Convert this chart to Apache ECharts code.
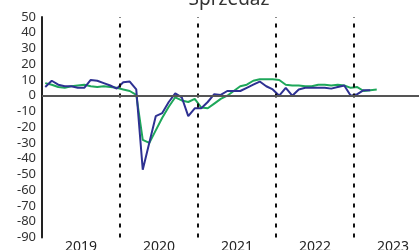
<!DOCTYPE html>
<html>
<head>
<meta charset="utf-8">
<script src="https://cdn.jsdelivr.net/npm/echarts@6/dist/echarts.min.js"></script>
<style>
html,body{margin:0;padding:0;background:#fff;}
#chart{width:419px;height:250px;}
</style>
</head>
<body>
<div id="chart"></div>
<script>
// Monthly data Jan 2019 .. Apr 2023
var years = ['2019', '2020', '2021', '2022', '2023'];
var yearBoundaries = [12, 24, 36, 48];
var blueValues = [
  5.5, 9.5, 7, 6, 6, 5, 5, 10, 9.5, 8, 6.5, 4.5,
  8.5, 9, 4, -47, -30, -13, -11, -4, 1.5, -1, -13, -8,
  -8, -4, 1, 0.5, 3, 3, 3, 5, 7, 9, 6, 4,
  0, 5, 0, 4, 5, 5, 5, 5, 4.5, 5.5, 6.5, 0,
  1, 3.5, 3.5
];
var greenValues = [
  8, 7, 5.5, 5, 6, 6.5, 7, 6, 5.5, 6, 5.5, 5,
  4, 3, 0.5, -28, -30, -22, -14, -7, -1, -3, -4, -2,
  -7.5, -8, -5, -2, 0, 3, 6, 7, 9.5, 10.5, 10.5, 10.5,
  10, 7, 6.5, 6.5, 6, 6, 7, 7, 6.5, 7, 6.5, 5,
  5.5, 3, 3.5, 4
];
var yTicks = [50, 40, 30, 20, 10, 0, -10, -20, -30, -40, -50, -60, -70, -80, -90];
var titleText = 'Sprzedaż';

function toPoints(arr) {
  return arr.map(function (v, i) { return [i + 0.5, v]; });
}

var chart = echarts.init(document.getElementById('chart'));
chart.setOption({
  animation: false,
  backgroundColor: '#ffffff',
  title: {
    text: titleText,
    left: 224,
    textAlign: 'center',
    top: -15,
    textStyle: { fontFamily: 'Noto Sans', fontSize: 19, fontWeight: 'normal', color: '#333' }
  },
  grid: { left: 42, top: 17, width: 390, bottom: 12.6, containLabel: false, outerBoundsMode: 'none' },
  xAxis: {
    type: 'value',
    min: 0,
    max: 60,
    interval: 6,
    axisLine: { show: false },
    axisTick: { show: false },
    splitLine: { show: false },
    axisLabel: {
      margin: 3,
      fontFamily: 'Noto Sans',
      fontSize: 14,
      color: '#222',
      formatter: function (v) {
        if (v % 12 === 6) { return years[(v - 6) / 12] || ''; }
        return '';
      }
    }
  },
  yAxis: {
    type: 'value',
    min: yTicks[yTicks.length - 1],
    max: yTicks[0],
    interval: 10,
    axisLine: { show: true, lineStyle: { color: '#222', width: 2 } },
    axisTick: { show: false },
    splitLine: { show: false },
    axisLabel: { margin: 6, fontFamily: 'Noto Sans', fontSize: 13, color: '#333' }
  },
  series: [
    {
      name: 'green',
      type: 'line',
      data: toPoints(greenValues),
      symbol: 'none',
      lineStyle: { color: '#1ea75a', width: 2 },
      z: 3,
      markLine: {
        silent: true,
        symbol: 'none',
        label: { show: false },
        data: yearBoundaries.map(function (b) {
          return { xAxis: b, lineStyle: { color: '#111', width: 2, type: [4, 6] } };
        }).concat([{ yAxis: 0, lineStyle: { color: '#555', width: 2, type: 'solid' } }])
      }
    },
    {
      name: 'blue',
      type: 'line',
      data: toPoints(blueValues),
      symbol: 'none',
      lineStyle: { color: '#2e3192', width: 2 },
      z: 4
    }
  ]
});
</script>
</body>
</html>
